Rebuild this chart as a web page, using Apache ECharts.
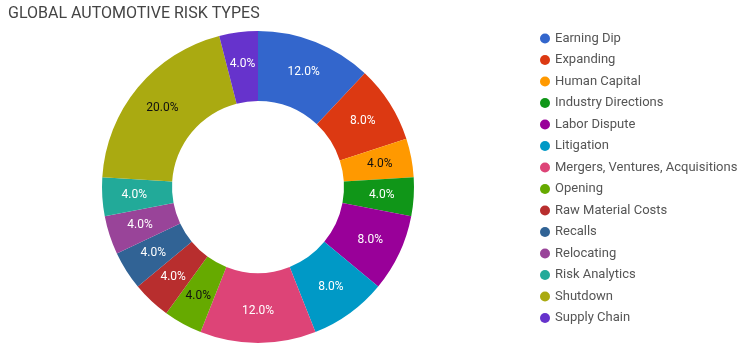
<!DOCTYPE html>
<html><head><meta charset="utf-8">
<script src="https://cdn.jsdelivr.net/npm/echarts@6/dist/echarts.min.js"></script>
<style>html,body{margin:0;padding:0;background:#fff}#c{width:740px;height:348px}</style>
</head><body><div id="c"></div>
<script>
var categories = ['Earning Dip','Expanding','Human Capital','Industry Directions','Labor Dispute','Litigation','Mergers, Ventures, Acquisitions','Opening','Raw Material Costs','Recalls','Relocating','Risk Analytics','Shutdown','Supply Chain'];
var values = [12,8,4,4,8,8,12,4,4,4,4,4,20,4];
var colors = ['#3366cc','#dc3912','#ff9900','#109618','#990099','#0099c6','#dd4477','#66aa00','#b82e2e','#316395','#994499','#22aa99','#aaaa11','#6633cc'];
var darkLabel = {'Human Capital':1,'Opening':1,'Shutdown':1};
var total = values.reduce(function(a,b){return a+b;},0);
var data = categories.map(function(n,i){
  return {name:n, value:values[i], itemStyle:{color:colors[i]},
    label:{color: darkLabel[n] ? '#111' : '#fff'}};
});
var chart = echarts.init(document.getElementById('c'));
chart.setOption({
  animation:false,
  title:{text:'GLOBAL AUTOMOTIVE RISK TYPES', left:3, top:1,
    textStyle:{fontFamily:'Roboto', fontSize:16, fontWeight:'normal', color:'#444'}},
  legend:{orient:'vertical', left:535, top:27, itemWidth:10, itemHeight:10, itemGap:8.5, icon:'circle',
    textStyle:{fontFamily:'Roboto', fontSize:13, color:'#555', lineHeight:13}},
  series:[{type:'pie', center:[258,187], radius:[86,156], startAngle:90, clockwise:true,
    data:data,
    label:{position:'inside', fontFamily:'Roboto', fontSize:12,
      formatter:function(p){return (p.value/total*100).toFixed(1)+'%';}},
    labelLine:{show:false},
    emphasis:{disabled:true}
  }]
});
</script></body></html>
